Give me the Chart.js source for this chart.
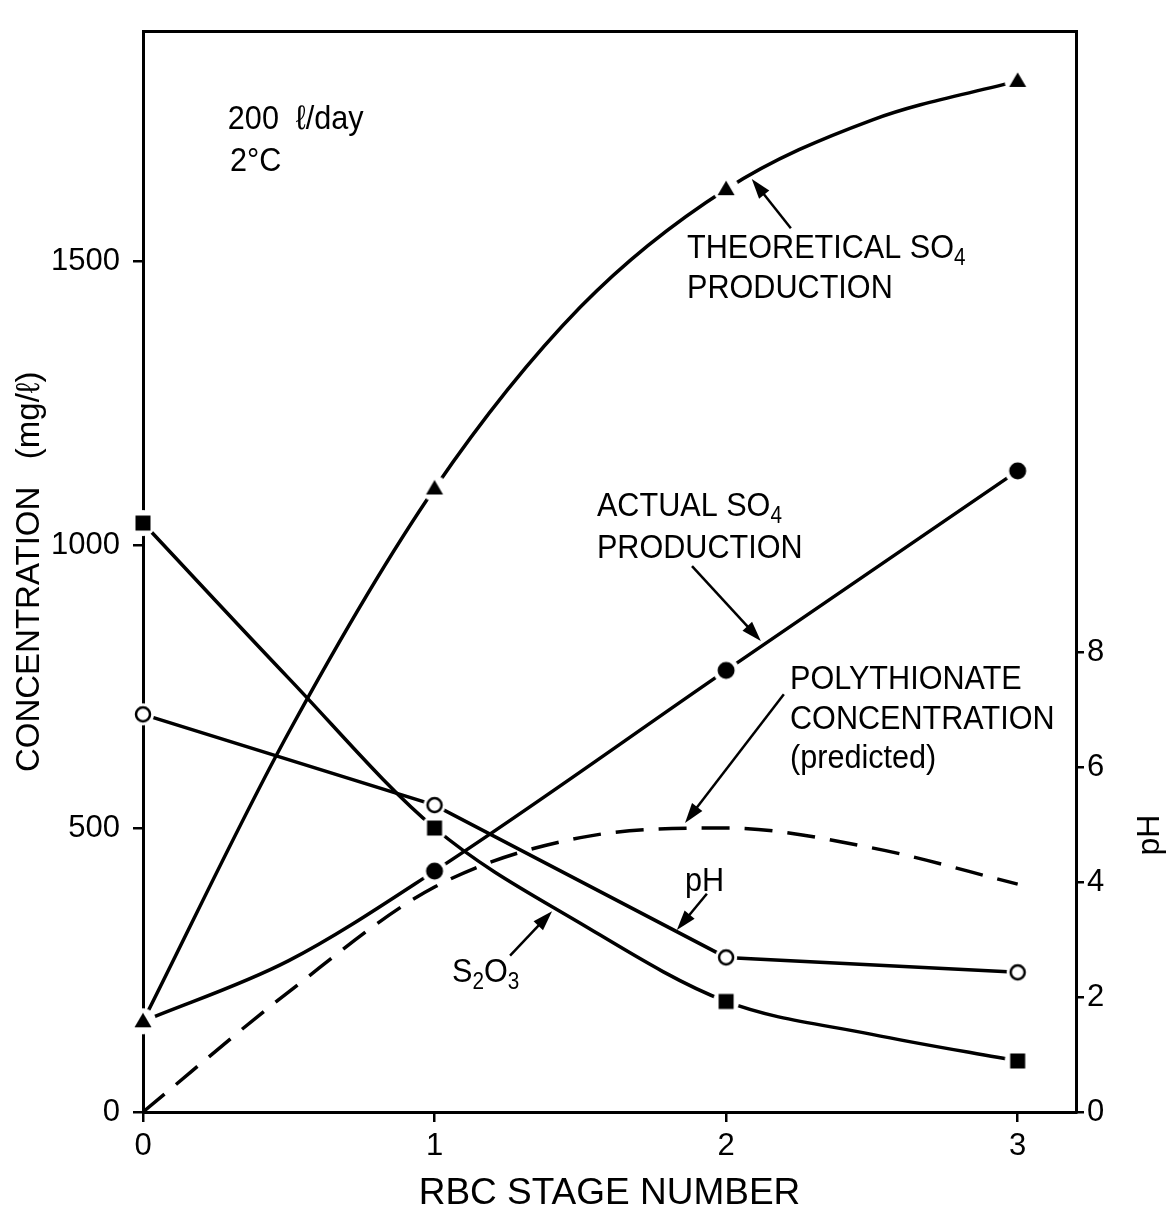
<!DOCTYPE html>
<html>
<head>
<meta charset="utf-8">
<script src="https://cdn.jsdelivr.net/npm/chart.js@4.4.1/dist/chart.umd.min.js"></script>
<style>
  html, body { margin: 0; padding: 0; background: #fff; }
  #wrap { width: 1166px; height: 1220px; position: relative; }
</style>
</head>
<body>
<div id="wrap"><canvas id="chart"></canvas></div>
<script>
// RBC stages; curves are read at half stages, markers sit on whole stages
const stages = [0, 1, 2, 3];
const curveStages = [0, 0.5, 1, 1.5, 2, 2.5, 3];
const theoreticalSO4 = [160, 670, 1100, 1420, 1628, 1750, 1819];
const thiosulfate = [1039, 765, 501, 333, 195, 137, 90];
const polythionate = [0, 212, 397, 484, 501, 466, 402];

const actualStages = [0, 0.5, 1, 2, 3];
const actualSO4 = [160, 267, 425, 779, 1131];

const phValues = [6.92, 5.34, 2.69, 2.43];

const concTicks = [0, 500, 1000, 1500];
const phTicks = [0, 2, 4, 6, 8];

const FONT = "'Liberation Sans', Arial, Helvetica, sans-serif";

Chart.defaults.font.family = FONT;
Chart.defaults.color = "#000";

// point markers with a white halo so the lines stop short of them
function makeMarker(kind) {
  const size = 34, c = size / 2;
  const cv = document.createElement("canvas");
  cv.width = size;
  cv.height = size;
  const ctx = cv.getContext("2d");
  ctx.fillStyle = "#fff";
  ctx.beginPath();
  ctx.arc(c, c, kind === "open" ? 11 : 13, 0, Math.PI * 2);
  ctx.fill();
  ctx.fillStyle = "#000";
  ctx.strokeStyle = "#000";
  if (kind === "triangle") {
    ctx.beginPath();
    ctx.moveTo(c, c - 8.5);
    ctx.lineTo(c + 8.5, c + 6);
    ctx.lineTo(c - 8.5, c + 6);
    ctx.closePath();
    ctx.fill();
  } else if (kind === "square") {
    ctx.fillRect(c - 7.5, c - 7.5, 15, 15);
  } else if (kind === "dot") {
    ctx.beginPath();
    ctx.arc(c, c, 8.5, 0, Math.PI * 2);
    ctx.fill();
  } else {
    ctx.fillStyle = "#fff";
    ctx.lineWidth = 2.5;
    ctx.beginPath();
    ctx.arc(c, c, 7, 0, Math.PI * 2);
    ctx.fill();
    ctx.stroke();
  }
  return cv;
}

const toPoints = (xs, ys) => xs.map((x, i) => ({ x, y: ys[i] }));
// only whole stages carry a marker
const onStage = ctx => (Number.isInteger(ctx.raw.x) ? 6 : 0);

const lineBase = {
  borderColor: "#000",
  borderWidth: 3.5,
  fill: false,
  clip: false,
  pointHoverRadius: 0
};

// annotation text, in stage / concentration units
const notes = [
  { parts: [{ t: "200  ℓ/day" }], at: [0.291, 1735] },
  { parts: [{ t: "2°C" }], at: [0.298, 1660] },
  { parts: [{ t: "THEORETICAL SO" }, { t: "4", sub: true }], at: [1.866, 1507] },
  { parts: [{ t: "PRODUCTION" }], at: [1.866, 1436] },
  { parts: [{ t: "ACTUAL SO" }, { t: "4", sub: true }], at: [1.557, 1051] },
  { parts: [{ t: "PRODUCTION" }], at: [1.557, 978] },
  { parts: [{ t: "POLYTHIONATE" }], at: [2.219, 747] },
  { parts: [{ t: "CONCENTRATION" }], at: [2.219, 676] },
  { parts: [{ t: "(predicted)" }], at: [2.219, 607] },
  { parts: [{ t: "pH" }], at: [1.859, 390] },
  { parts: [{ t: "S" }, { t: "2", sub: true }, { t: "O" }, { t: "3", sub: true }], at: [1.06, 229] }
];

const pointers = [
  { from: [2.222, 1559], to: [2.088, 1646] },
  { from: [1.883, 963], to: [2.119, 831] },
  { from: [2.198, 737], to: [1.859, 510] },
  { from: [1.934, 385], to: [1.831, 321] },
  { from: [1.259, 276], to: [1.403, 354] }
];

// narrow lettering, like the typeset labels
function drawRich(ctx, parts, x, y, size, squeeze) {
  ctx.save();
  ctx.translate(x, y);
  ctx.scale(squeeze, 1);
  let cx = 0;
  parts.forEach(p => {
    const fs = p.sub ? Math.round(size * 0.68) : size;
    ctx.font = `${fs}px ${FONT}`;
    ctx.fillText(p.t, cx, p.sub ? size * 0.2 : 0);
    cx += ctx.measureText(p.t).width;
  });
  ctx.restore();
}

function drawArrow(ctx, x1, y1, x2, y2) {
  const ang = Math.atan2(y2 - y1, x2 - x1);
  const len = 20, half = 6.5;
  ctx.lineWidth = 2.5;
  ctx.beginPath();
  ctx.moveTo(x1, y1);
  ctx.lineTo(x2 - Math.cos(ang) * len * 0.8, y2 - Math.sin(ang) * len * 0.8);
  ctx.stroke();
  ctx.beginPath();
  ctx.moveTo(x2, y2);
  ctx.lineTo(x2 - Math.cos(ang) * len - Math.sin(ang) * half, y2 - Math.sin(ang) * len + Math.cos(ang) * half);
  ctx.lineTo(x2 - Math.cos(ang) * len + Math.sin(ang) * half, y2 - Math.sin(ang) * len - Math.cos(ang) * half);
  ctx.closePath();
  ctx.fill();
}

const annotations = {
  id: "annotations",
  afterDraw(chart) {
    const { ctx, chartArea, scales } = chart;
    const sx = v => scales.x.getPixelForValue(v);
    const sy = v => scales.y.getPixelForValue(v);
    ctx.save();
    ctx.fillStyle = "#000";
    ctx.strokeStyle = "#000";

    // frame top edge
    ctx.lineWidth = 3;
    ctx.beginPath();
    ctx.moveTo(chartArea.left, chartArea.top);
    ctx.lineTo(chartArea.right, chartArea.top);
    ctx.stroke();

    ctx.textBaseline = "alphabetic";
    ctx.textAlign = "left";
    notes.forEach(n => drawRich(ctx, n.parts, sx(n.at[0]), sy(n.at[1]), 34, 0.9));

    pointers.forEach(p => drawArrow(ctx, sx(p.from[0]), sy(p.from[1]), sx(p.to[0]), sy(p.to[1])));

    // right axis title
    ctx.translate(scales.y2.right - 16, scales.y2.getPixelForValue(4.82));
    ctx.rotate(-Math.PI / 2);
    ctx.textAlign = "center";
    ctx.textBaseline = "middle";
    ctx.font = `32px ${FONT}`;
    ctx.fillText("pH", 0, 0);
    ctx.restore();
  }
};

const tickGrid = { display: true, drawOnChartArea: false, drawTicks: true, tickLength: 10, color: "#000", lineWidth: 2.5 };
const axisBorder = { display: true, color: "#000", width: 3 };

new Chart(document.getElementById("chart"), {
  type: "line",
  data: {
    datasets: [
      {
        ...lineBase,
        label: "Theoretical SO4 production",
        data: toPoints(curveStages, theoreticalSO4),
        cubicInterpolationMode: "monotone",
        pointStyle: makeMarker("triangle"),
        pointRadius: onStage,
        yAxisID: "y"
      },
      {
        ...lineBase,
        label: "Actual SO4 production",
        data: toPoints(actualStages, actualSO4),
        cubicInterpolationMode: "monotone",
        pointStyle: makeMarker("dot"),
        pointRadius: ctx => (ctx.raw.x > 0 ? onStage(ctx) : 0),
        yAxisID: "y"
      },
      {
        ...lineBase,
        label: "S2O3",
        data: toPoints(curveStages, thiosulfate),
        cubicInterpolationMode: "monotone",
        pointStyle: makeMarker("square"),
        pointRadius: onStage,
        yAxisID: "y"
      },
      {
        ...lineBase,
        label: "pH",
        data: toPoints(stages, phValues),
        tension: 0,
        pointStyle: makeMarker("open"),
        pointRadius: 6,
        yAxisID: "y2"
      },
      {
        ...lineBase,
        label: "Polythionate concentration (predicted)",
        data: toPoints(curveStages, polythionate),
        cubicInterpolationMode: "monotone",
        borderDash: [28, 15],
        pointRadius: 0,
        yAxisID: "y"
      }
    ]
  },
  options: {
    responsive: true,
    maintainAspectRatio: false,
    animation: false,
    layout: { padding: { top: 13, left: 0, right: 0, bottom: 0 } },
    plugins: {
      legend: { display: false },
      tooltip: { enabled: false }
    },
    scales: {
      x: {
        type: "linear",
        position: "bottom",
        min: 0,
        max: 3.2,
        afterBuildTicks: s => { s.ticks = stages.map(v => ({ value: v })); },
        afterFit: s => { s.height = 108; },
        grid: tickGrid,
        border: axisBorder,
        ticks: { font: { size: 31 }, padding: 6, maxRotation: 0, callback: v => String(v) },
        title: { display: true, text: "RBC STAGE NUMBER", font: { size: 37 }, padding: { top: 0, bottom: 4 } }
      },
      y: {
        type: "linear",
        position: "left",
        min: 0,
        max: 1906,
        afterBuildTicks: s => { s.ticks = concTicks.map(v => ({ value: v })); },
        afterFit: s => { s.width = 143; },
        grid: tickGrid,
        border: axisBorder,
        ticks: { font: { size: 31 }, padding: 13, callback: v => String(v) },
        title: { display: true, text: "CONCENTRATION   (mg/ℓ)", font: { size: 33 }, padding: { top: 10, bottom: 0 } }
      },
      y2: {
        type: "linear",
        position: "right",
        min: 0,
        max: 18.8,
        afterBuildTicks: s => { s.ticks = phTicks.map(v => ({ value: v })); },
        afterFit: s => { s.width = 90; },
        grid: { ...tickGrid, tickLength: 8 },
        border: axisBorder,
        ticks: { font: { size: 31 }, padding: 3, callback: v => String(v) }
      }
    }
  },
  plugins: [annotations]
});
</script>
</body>
</html>
